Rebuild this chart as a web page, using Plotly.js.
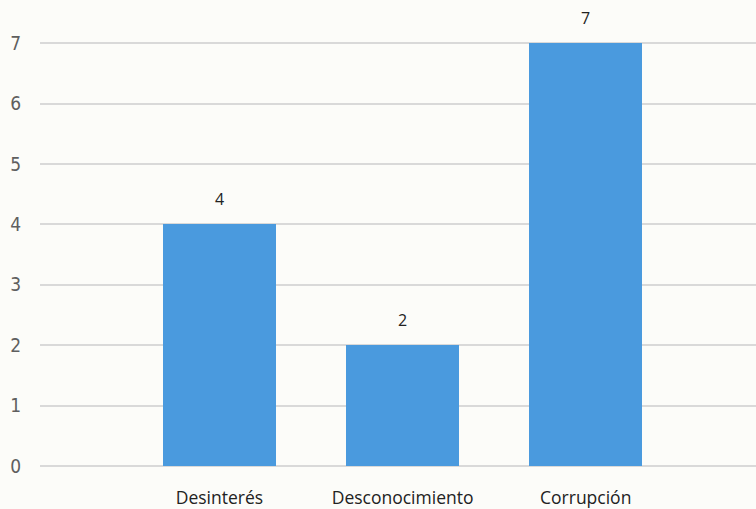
<!DOCTYPE html>
<html>
<head>
<meta charset="utf-8">
<script src="https://cdn.plot.ly/plotly-3.0.1.min.js"></script>
<style>
  html, body { margin: 0; padding: 0; background: #fcfcf9; }
  #chart { width: 756px; height: 509px; }
</style>
</head>
<body>
<div id="chart"></div>
<script>
// Causes and their counts
const categories = ['Desinterés', 'Desconocimiento', 'Corrupción'];
const counts = [4, 2, 7];
const yTicks = [0, 1, 2, 3, 4, 5, 6, 7];

const barColor = '#4a9ade';
const gridColor = '#d9d9d9';

const trace = {
  type: 'bar',
  x: categories,
  y: counts,
  width: 0.62,
  marker: { color: barColor },
  hoverinfo: 'x+y'
};

// Value labels above each bar
const valueLabels = categories.map((c, i) => ({
  x: c,
  y: counts[i],
  xref: 'x',
  yref: 'y',
  text: String(counts[i]),
  showarrow: false,
  yanchor: 'bottom',
  yshift: 12,
  font: { family: 'Open Sans, sans-serif', size: 16, color: '#222222' }
}));

const layout = {
  width: 756,
  height: 509,
  margin: { l: 40, r: 0, t: 13, b: 43 },
  paper_bgcolor: '#fcfcf9',
  plot_bgcolor: '#fcfcf9',
  showlegend: false,
  bargap: 0,
  xaxis: {
    type: 'category',
    range: [-0.98, 2.93],
    showgrid: false,
    showline: false,
    zeroline: false,
    ticks: '',
    ticklabelstandoff: 19,
    tickfont: { family: 'Open Sans, sans-serif', size: 17.5, color: '#222222' },
    fixedrange: true
  },
  yaxis: {
    range: [0, 7.5],
    tickmode: 'array',
    tickvals: yTicks,
    ticktext: yTicks.map(String),
    showgrid: true,
    gridcolor: gridColor,
    gridwidth: 2,
    zeroline: true,
    zerolinecolor: gridColor,
    zerolinewidth: 2,
    showline: false,
    ticks: '',
    ticklabelstandoff: 18,
    tickfont: { family: 'DejaVu Sans Condensed, Open Sans, sans-serif', size: 19, color: '#5f5f5f' },
    fixedrange: true
  },
  annotations: valueLabels
};

Plotly.newPlot('chart', [trace], layout, { displayModeBar: false, staticPlot: true });
</script>
</body>
</html>
